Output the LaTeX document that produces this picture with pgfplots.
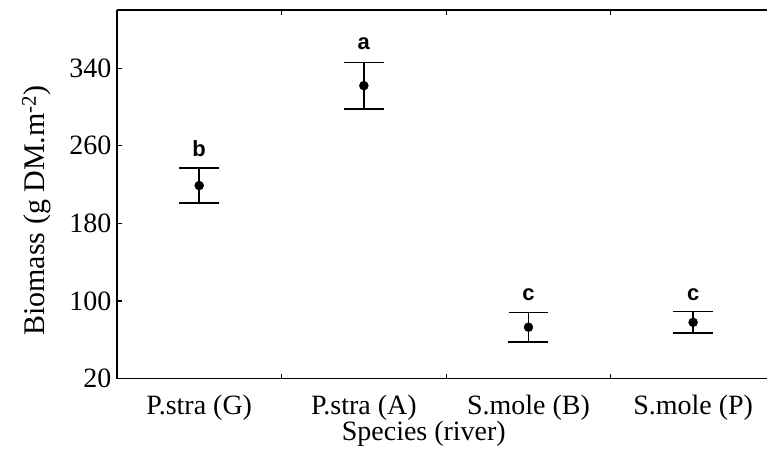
\documentclass[border=0pt]{standalone}
\usepackage{fontspec}
\setmainfont{Liberation Serif}
\newfontfamily\arialfont{Liberation Sans}
\usepackage{pgfplots}
\pgfplotsset{compat=1.18}
\begin{document}
\begin{tikzpicture}
\begin{axis}[
  scale only axis, width=651bp, height=369bp,
  xmin=-0.5, xmax=3.45, ymin=20, ymax=400,
  axis x line*=box, axis y line*=left,
  axis line style={line width=1.6bp, black},
  every tick/.style={line width=1.2bp, black},
  font=\fontsize{28bp}{32bp}\selectfont,
  /pgf/number format/assume math mode=true,
  xtick={0,1,2,3},
  xticklabels={P.stra (G),P.stra (A),S.mole (B),S.mole (P)},
  major x tick style={draw=none},
  minor xtick={0.5,1.5,2.5},
  ytick={20,100,180,260,340},
  tick align=inside,
  major tick length=5bp, minor tick length=5bp,
  xticklabel style={anchor=base, yshift=-36bp},
  yticklabel style={xshift=-2bp},
  xlabel={Species (river)},
  ylabel={Biomass (g DM.m\textsuperscript{-2})},
  xlabel style={at={(axis description cs:0.472,0)}, anchor=base, yshift=-62bp},
  ylabel style={at={(axis description cs:0,0.456)}, anchor=base, yshift=72bp,
    font=\fontsize{30bp}{34bp}\selectfont},
  clip=false,
]
\addplot[only marks, mark=*, mark size=4.5bp, black,
  error bars/.cd, y dir=both, y explicit,
  error bar style={line width=1.6bp, black},
  error mark options={rotate=90, line width=1.6bp, mark size=20bp, black}]
  coordinates {
    (0,219) +- (0,18)
    (1,322) +- (0,24)
    (2,73) +- (0,15)
    (3,78) +- (0,11)
  };
\node[font=\arialfont\bfseries\fontsize{22bp}{22bp}\selectfont, anchor=base] at (axis cs:0,249) {b};
\node[font=\arialfont\bfseries\fontsize{22bp}{22bp}\selectfont, anchor=base] at (axis cs:1,359) {a};
\node[font=\arialfont\bfseries\fontsize{22bp}{22bp}\selectfont, anchor=base] at (axis cs:2,101) {c};
\node[font=\arialfont\bfseries\fontsize{22bp}{22bp}\selectfont, anchor=base] at (axis cs:3,101) {c};
\path (rel axis cs:0,0) ++(-117bp,-92bp) rectangle ++(768bp,471bp);
\end{axis}
\end{tikzpicture}
\end{document}
